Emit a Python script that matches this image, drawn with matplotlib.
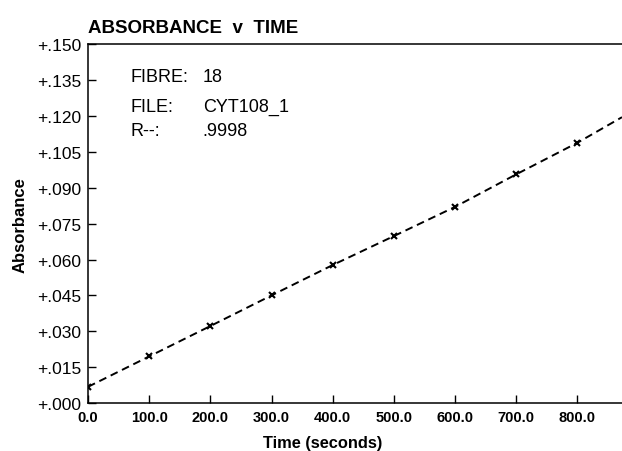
import matplotlib

matplotlib.use("Agg")
import matplotlib.pyplot as plt
from matplotlib.ticker import FixedLocator

plt.rcParams["font.family"] = ["Liberation Sans", "DejaVu Sans"]

# Measured points (time in s, absorbance)
TIMES = [0, 100, 200, 300, 400, 500, 600, 700, 800]
ABSORBANCE = [0.0068, 0.0195, 0.0322, 0.0450, 0.0577, 0.0698, 0.0820, 0.0956, 0.1088]

# Fitted dashed line
FIT_T = [0, 100, 200, 300, 400, 500, 600, 700, 800, 873]
FIT_A = [0.0068, 0.0195, 0.0322, 0.0450, 0.0577, 0.0698, 0.0820, 0.0956, 0.1088, 0.1195]

X_TICKS = [0, 100, 200, 300, 400, 500, 600, 700, 800]
Y_TICKS = [0.000, 0.015, 0.030, 0.045, 0.060, 0.075, 0.090, 0.105, 0.120, 0.135, 0.150]

INFO_LABELS = ["FIBRE:", "FILE:", "R--:"]
INFO_VALUES = ["18", "CYT108_1", ".9998"]
INFO_Y = [0.911, 0.827, 0.760]

fig = plt.figure(figsize=(6.22, 4.52), dpi=100)
ax = fig.add_axes([0.1415, 0.106, 0.8585, 0.794])

ax.plot(FIT_T, FIT_A, color="black", linestyle=(0, (4, 2.5)), linewidth=1.4)
ax.plot(TIMES, ABSORBANCE, linestyle="none", marker="x", color="black",
        markersize=5, markeredgewidth=1.5)

ax.set_xlim(0, 873)
ax.set_ylim(0, 0.150)
ax.xaxis.set_major_locator(FixedLocator(X_TICKS))
ax.yaxis.set_major_locator(FixedLocator(Y_TICKS))
ax.set_xticklabels([f"{t:.1f}" for t in X_TICKS], fontweight="bold", fontsize=10.5)
ax.set_yticklabels([f"+{v:.3f}".replace("0.", ".") for v in Y_TICKS], fontsize=12.5)
ax.tick_params(direction="in", length=6, width=1)
ax.tick_params(axis="y", pad=5)
ax.tick_params(axis="x", pad=5)

for side in ["left", "bottom", "top"]:
    ax.spines[side].set_linewidth(1.1)
ax.spines["right"].set_visible(False)

ax.set_xlabel("Time (seconds)", fontweight="bold", fontsize=11.8, x=0.44, labelpad=8)
ax.set_ylabel("Absorbance", fontweight="bold", fontsize=12, labelpad=7)
ax.set_title("ABSORBANCE  v  TIME", loc="left", fontsize=13.5, fontweight="bold", pad=9)

for lab, val, y in zip(INFO_LABELS, INFO_VALUES, INFO_Y):
    ax.text(0.079, y, lab, transform=ax.transAxes, fontsize=13, va="center")
    ax.text(0.215, y, val, transform=ax.transAxes, fontsize=13, va="center")

fig.savefig("out.png", dpi=100)
